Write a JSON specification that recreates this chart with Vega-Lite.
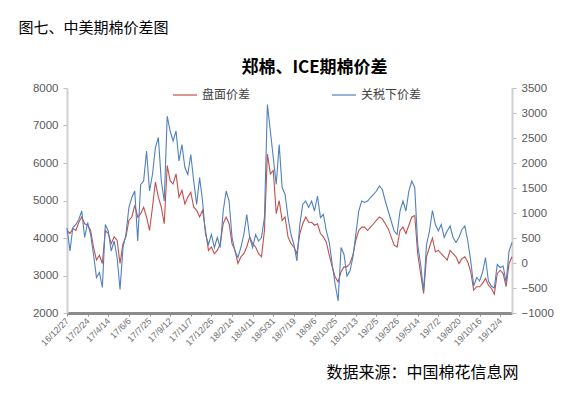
{
  "$schema": "https://vega.github.io/schema/vega-lite/v6.json",
  "width": 445,
  "height": 225,
  "autosize": "none",
  "padding": {"left": 67, "top": 88, "right": 57, "bottom": 82},
  "background": "white",
  "title": {"text": "郑棉、ICE期棉价差", "anchor": "middle", "frame": "group", "dx": 25, "dy": 81, "offset": 16, "baseline": "middle", "fontSize": 17, "font": "Noto Sans CJK SC", "fontWeight": "bold", "color": "#000000"},
  "data": {"values": [
    {"d": "16/12/27", "r": 4200, "b": 700},
    {"d": "17/1/4", "r": 4120, "b": 240},
    {"d": "17/1/11", "r": 4250, "b": 710},
    {"d": "17/1/18", "r": 4200, "b": 770},
    {"d": "17/1/25", "r": 4420, "b": 870},
    {"d": "17/2/8", "r": 4560, "b": 1040},
    {"d": "17/2/15", "r": 4380, "b": 510},
    {"d": "17/2/24", "r": 4340, "b": 810},
    {"d": "17/3/3", "r": 4200, "b": 570},
    {"d": "17/3/10", "r": 3760, "b": 170},
    {"d": "17/3/17", "r": 3410, "b": -290},
    {"d": "17/3/24", "r": 3540, "b": -190},
    {"d": "17/3/31", "r": 3320, "b": -490},
    {"d": "17/4/7", "r": 4200, "b": 770},
    {"d": "17/4/14", "r": 4120, "b": 640},
    {"d": "17/4/21", "r": 3850, "b": 240},
    {"d": "17/4/28", "r": 4030, "b": 440},
    {"d": "17/5/5", "r": 3940, "b": 110},
    {"d": "17/5/12", "r": 3320, "b": -530},
    {"d": "17/5/19", "r": 3850, "b": 310},
    {"d": "17/5/26", "r": 4030, "b": 570},
    {"d": "17/6/6", "r": 4470, "b": 1110},
    {"d": "17/6/13", "r": 4560, "b": 1310},
    {"d": "17/6/20", "r": 4870, "b": 1440},
    {"d": "17/6/27", "r": 4560, "b": 440},
    {"d": "17/7/4", "r": 4650, "b": 1570},
    {"d": "17/7/11", "r": 4820, "b": 1640},
    {"d": "17/7/18", "r": 4560, "b": 2240},
    {"d": "17/7/25", "r": 4200, "b": 1440},
    {"d": "17/8/1", "r": 4820, "b": 1770},
    {"d": "17/8/8", "r": 5490, "b": 2310},
    {"d": "17/8/15", "r": 5090, "b": 2510},
    {"d": "17/8/22", "r": 4820, "b": 1640},
    {"d": "17/8/29", "r": 4380, "b": 1240},
    {"d": "17/9/5", "r": 5930, "b": 2940},
    {"d": "17/9/12", "r": 5530, "b": 2640},
    {"d": "17/9/19", "r": 5440, "b": 2440},
    {"d": "17/9/26", "r": 5710, "b": 2640},
    {"d": "17/10/10", "r": 5090, "b": 2040},
    {"d": "17/10/17", "r": 5270, "b": 2370},
    {"d": "17/10/24", "r": 4910, "b": 1910},
    {"d": "17/10/31", "r": 5090, "b": 1770},
    {"d": "17/11/7", "r": 5220, "b": 2170},
    {"d": "17/11/14", "r": 4820, "b": 1640},
    {"d": "17/11/21", "r": 4740, "b": 1170},
    {"d": "17/11/28", "r": 4560, "b": 1710},
    {"d": "17/12/5", "r": 4740, "b": 1240},
    {"d": "17/12/12", "r": 4200, "b": 570},
    {"d": "17/12/19", "r": 3670, "b": 370},
    {"d": "17/12/26", "r": 3760, "b": 570},
    {"d": "18/1/2", "r": 3580, "b": 310},
    {"d": "18/1/9", "r": 3670, "b": 510},
    {"d": "18/1/16", "r": 3850, "b": 310},
    {"d": "18/1/23", "r": 4380, "b": 1040},
    {"d": "18/1/30", "r": 4560, "b": 1440},
    {"d": "18/2/6", "r": 4380, "b": 1240},
    {"d": "18/2/14", "r": 3850, "b": 510},
    {"d": "18/2/26", "r": 3670, "b": 240},
    {"d": "18/3/5", "r": 3320, "b": 110},
    {"d": "18/3/12", "r": 3500, "b": 310},
    {"d": "18/3/19", "r": 3580, "b": 570},
    {"d": "18/3/26", "r": 3760, "b": 970},
    {"d": "18/4/2", "r": 4030, "b": 510},
    {"d": "18/4/11", "r": 3850, "b": 310},
    {"d": "18/4/18", "r": 3760, "b": 570},
    {"d": "18/4/25", "r": 3580, "b": 440},
    {"d": "18/5/3", "r": 3500, "b": 510},
    {"d": "18/5/10", "r": 4200, "b": 910},
    {"d": "18/5/17", "r": 6240, "b": 3170},
    {"d": "18/5/24", "r": 5710, "b": 2640},
    {"d": "18/5/31", "r": 5800, "b": 2110},
    {"d": "18/6/7", "r": 4650, "b": 1570},
    {"d": "18/6/14", "r": 5000, "b": 2370},
    {"d": "18/6/21", "r": 4470, "b": 1510},
    {"d": "18/6/28", "r": 4560, "b": 1370},
    {"d": "18/7/5", "r": 4030, "b": 910},
    {"d": "18/7/12", "r": 3850, "b": 570},
    {"d": "18/7/19", "r": 3760, "b": 370},
    {"d": "18/7/26", "r": 3580, "b": 40},
    {"d": "18/8/2", "r": 4120, "b": 770},
    {"d": "18/8/9", "r": 4380, "b": 1170},
    {"d": "18/8/16", "r": 4560, "b": 1240},
    {"d": "18/8/23", "r": 4420, "b": 1110},
    {"d": "18/8/30", "r": 4420, "b": 1240},
    {"d": "18/9/6", "r": 4340, "b": 1040},
    {"d": "18/9/13", "r": 4380, "b": 1340},
    {"d": "18/9/20", "r": 4120, "b": 910},
    {"d": "18/9/27", "r": 4030, "b": 970},
    {"d": "18/10/10", "r": 3890, "b": 640},
    {"d": "18/10/15", "r": 3540, "b": 410},
    {"d": "18/10/19", "r": 3230, "b": -30},
    {"d": "18/10/25", "r": 2960, "b": -430},
    {"d": "18/11/1", "r": 2830, "b": -760},
    {"d": "18/11/8", "r": 3100, "b": 310},
    {"d": "18/11/15", "r": 3230, "b": 170},
    {"d": "18/11/22", "r": 3230, "b": -260},
    {"d": "18/11/29", "r": 3320, "b": -160},
    {"d": "18/12/6", "r": 3540, "b": 110},
    {"d": "18/12/13", "r": 3940, "b": 570},
    {"d": "18/12/20", "r": 4200, "b": 1040},
    {"d": "18/12/27", "r": 4290, "b": 1240},
    {"d": "19/1/4", "r": 4290, "b": 1210},
    {"d": "19/1/11", "r": 4200, "b": 1240},
    {"d": "19/1/18", "r": 4290, "b": 1310},
    {"d": "19/1/25", "r": 4380, "b": 1370},
    {"d": "19/2/5", "r": 4470, "b": 1440},
    {"d": "19/2/12", "r": 4560, "b": 1540},
    {"d": "19/2/19", "r": 4510, "b": 1470},
    {"d": "19/2/26", "r": 4380, "b": 1240},
    {"d": "19/3/5", "r": 4250, "b": 1040},
    {"d": "19/3/12", "r": 4030, "b": 840},
    {"d": "19/3/19", "r": 3810, "b": 640},
    {"d": "19/3/26", "r": 3760, "b": 570},
    {"d": "19/4/2", "r": 4200, "b": 1040},
    {"d": "19/4/9", "r": 4290, "b": 1240},
    {"d": "19/4/16", "r": 4120, "b": 1040},
    {"d": "19/4/23", "r": 4340, "b": 1440},
    {"d": "19/4/30", "r": 4560, "b": 1640},
    {"d": "19/5/7", "r": 4600, "b": 1510},
    {"d": "19/5/14", "r": 3580, "b": 370},
    {"d": "19/5/21", "r": 3050, "b": -30},
    {"d": "19/5/28", "r": 2520, "b": -560},
    {"d": "19/6/4", "r": 3500, "b": 370},
    {"d": "19/6/11", "r": 3760, "b": 640},
    {"d": "19/6/18", "r": 4000, "b": 1050},
    {"d": "19/6/25", "r": 3630, "b": 770},
    {"d": "19/7/2", "r": 3670, "b": 640},
    {"d": "19/7/9", "r": 3580, "b": 770},
    {"d": "19/7/16", "r": 3500, "b": 510},
    {"d": "19/7/23", "r": 3410, "b": 640},
    {"d": "19/7/30", "r": 3670, "b": 740},
    {"d": "19/8/6", "r": 3580, "b": 510},
    {"d": "19/8/13", "r": 3500, "b": 410},
    {"d": "19/8/20", "r": 3320, "b": 510},
    {"d": "19/8/27", "r": 3450, "b": 670},
    {"d": "19/9/3", "r": 3500, "b": 740},
    {"d": "19/9/10", "r": 3360, "b": 440},
    {"d": "19/9/17", "r": 3100, "b": 40},
    {"d": "19/9/24", "r": 2610, "b": -460},
    {"d": "19/10/9", "r": 2700, "b": -290},
    {"d": "19/10/16", "r": 2700, "b": -360},
    {"d": "19/10/23", "r": 2790, "b": -190},
    {"d": "19/10/30", "r": 2920, "b": 110},
    {"d": "19/11/6", "r": 2740, "b": -360},
    {"d": "19/11/13", "r": 2660, "b": -460},
    {"d": "19/11/20", "r": 2500, "b": -500},
    {"d": "19/11/27", "r": 3050, "b": -30},
    {"d": "19/12/4", "r": 3140, "b": -90},
    {"d": "19/12/11", "r": 3050, "b": -60},
    {"d": "19/12/18", "r": 2700, "b": -390},
    {"d": "19/12/25", "r": 3320, "b": 240},
    {"d": "20/1/2", "r": 3500, "b": 410}
  ]},
  "encoding": {
    "x": {
      "field": "d", "type": "ordinal", "sort": null,
      "scale": {"type": "point", "padding": 0},
      "axis": {
        "values": ["16/12/27","17/2/24","17/4/14","17/6/6","17/7/25","17/9/12","17/11/7","17/12/26","18/2/14","18/4/11","18/5/31","18/7/19","18/9/6","18/10/25","18/12/13","19/2/5","19/3/26","19/5/14","19/7/2","19/8/20","19/10/16","19/12/4"],
        "labelAngle": -45, "labelAlign": "right", "labelBaseline": "middle",
        "labelFontSize": 9, "labelColor": "#6E6E6E", "labelPadding": 3,
        "domainColor": "#8C8C8C", "domainWidth": 3,
        "tickColor": "#8C8C8C", "tickSize": 3,
        "title": "数据来源：中国棉花信息网",
        "titleX": 451, "titleY": 59, "titleAlign": "right", "titleBaseline": "middle",
        "titleFontSize": 16, "titleFont": "Noto Sans CJK SC", "titleFontWeight": "normal", "titleColor": "#000000"
      }
    }
  },
  "layer": [
    {
      "mark": {"type": "line", "strokeWidth": 1.1},
      "encoding": {
        "y": {
          "field": "r", "type": "quantitative",
          "scale": {"domain": [2000, 8000], "nice": false, "zero": false},
          "axis": {
            "orient": "left", "values": [2000,3000,4000,5000,6000,7000,8000], "format": "d", "grid": false,
            "labelFontSize": 11.5, "labelColor": "#595959", "labelPadding": 5,
            "domainColor": "#D0D0D0", "domainWidth": 2, "tickColor": "#BFBFBF", "tickSize": 4,
            "title": "图七、中美期棉价差图", "titleAngle": 0, "titleX": -49, "titleY": -61,
            "titleAlign": "left", "titleBaseline": "middle", "titleFontSize": 15,
            "titleFont": "Noto Sans CJK SC", "titleFontWeight": "normal", "titleColor": "#000000"
          }
        },
        "color": {
          "datum": "盘面价差", "type": "nominal",
          "scale": {"domain": ["盘面价差", "关税下价差"], "range": ["#C0504D", "#4F81BD"]},
          "legend": {
            "orient": "none", "legendX": 105, "legendY": -6, "direction": "horizontal", "title": null,
            "symbolType": "stroke", "symbolSize": 576, "symbolStrokeWidth": 1.2,
            "labelFontSize": 12, "labelFont": "Noto Sans CJK SC", "labelColor": "#404040",
            "labelOffset": 4, "columnPadding": 78
          }
        }
      }
    },
    {
      "mark": {"type": "line", "strokeWidth": 1.1},
      "encoding": {
        "y": {
          "field": "b", "type": "quantitative",
          "scale": {"domain": [-1000, 3500], "nice": false, "zero": false},
          "axis": {
            "orient": "right", "values": [-1000,-500,0,500,1000,1500,2000,2500,3000,3500], "format": "d", "grid": false,
            "labelFontSize": 11.5, "labelColor": "#595959", "labelPadding": 5,
            "domainColor": "#D0D0D0", "domainWidth": 2, "tickColor": "#BFBFBF", "tickSize": 4,
            "title": null
          }
        },
        "color": {"datum": "关税下价差", "type": "nominal"}
      }
    }
  ],
  "resolve": {"scale": {"y": "independent"}},
  "config": {
    "view": {"stroke": null},
    "font": "Liberation Sans",
    "axis": {"labelFont": "Liberation Sans"}
  }
}
